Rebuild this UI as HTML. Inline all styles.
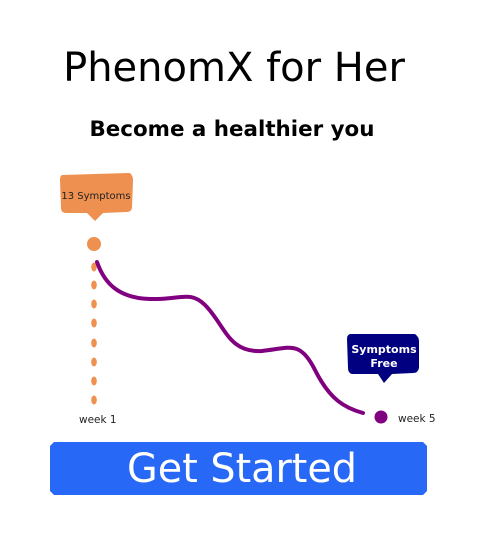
<!DOCTYPE html>
<html><head><style>
html,body{margin:0;padding:0;background:#fff;}
body{width:485px;height:546px;overflow:hidden;}
</style></head><body>
<svg width="485" height="546" viewBox="0 0 485 546" xmlns="http://www.w3.org/2000/svg" font-family="DejaVu Sans, sans-serif">
<text x="234" y="81" font-size="40" text-anchor="middle" fill="#000">PhenomX for Her</text>
<text x="232" y="136" font-size="21.4" font-weight="bold" text-anchor="middle" fill="#000">Become a healthier you</text>
<path d="M62,175 L130,173 Q133,176 133,180 L132,208 Q131,212 127,212 L103,213 L95,221 L87,213 L65,213 Q61,212 61,208 L60,180 Q60,176 62,175 Z" fill="#ee9150"/>
<text x="96" y="199" font-size="10" text-anchor="middle" fill="#222">13 Symptoms</text>
<circle cx="94" cy="244" r="7" fill="#ee9150"/>
<g fill="#ee9150">
<ellipse cx="94" cy="267" rx="2.8" ry="4.5"/><ellipse cx="94" cy="285" rx="2.8" ry="4.5"/>
<ellipse cx="94" cy="304" rx="2.8" ry="4.5"/><ellipse cx="94" cy="323" rx="2.8" ry="4.5"/>
<ellipse cx="94" cy="343" rx="2.8" ry="4.5"/><ellipse cx="94" cy="362" rx="2.8" ry="4.5"/>
<ellipse cx="94" cy="381" rx="2.8" ry="4.5"/><ellipse cx="94" cy="400" rx="2.8" ry="4.5"/>
</g>
<path d="M97,262 C105,285 120,298 150,299 C180,300 190,290 205,305 C225,325 228,353 262,351 C290,348 300,340 315,370 C330,400 345,408 363,413" fill="none" stroke="#800080" stroke-width="4" stroke-linecap="round"/>
<circle cx="381" cy="417" r="6.5" fill="#800080"/>
<text x="79" y="423" font-size="10.5" fill="#222">week 1</text>
<text x="398" y="422" font-size="10.5" fill="#222">week 5</text>
<path d="M350,334 L415,334 Q419,337 419,341 L419,368 Q418,373 413,373 L392,374 L384,383 L378,374 L352,374 Q348,373 348,368 L347,339 Q347,335 350,334 Z" fill="#000080"/>
<text x="384" y="353" font-size="11" font-weight="bold" text-anchor="middle" fill="#fff">Symptoms</text>
<text x="384" y="367" font-size="11" font-weight="bold" text-anchor="middle" fill="#fff">Free</text>
<path d="M54,442 L423,442 L427,446 L427,491 L423,495 L54,495 L50,491 L50,446 Z" fill="#2868f7"/>
<text x="242" y="482" font-size="39.7" text-anchor="middle" fill="#fff">Get Started</text>
</svg>
</body></html>
